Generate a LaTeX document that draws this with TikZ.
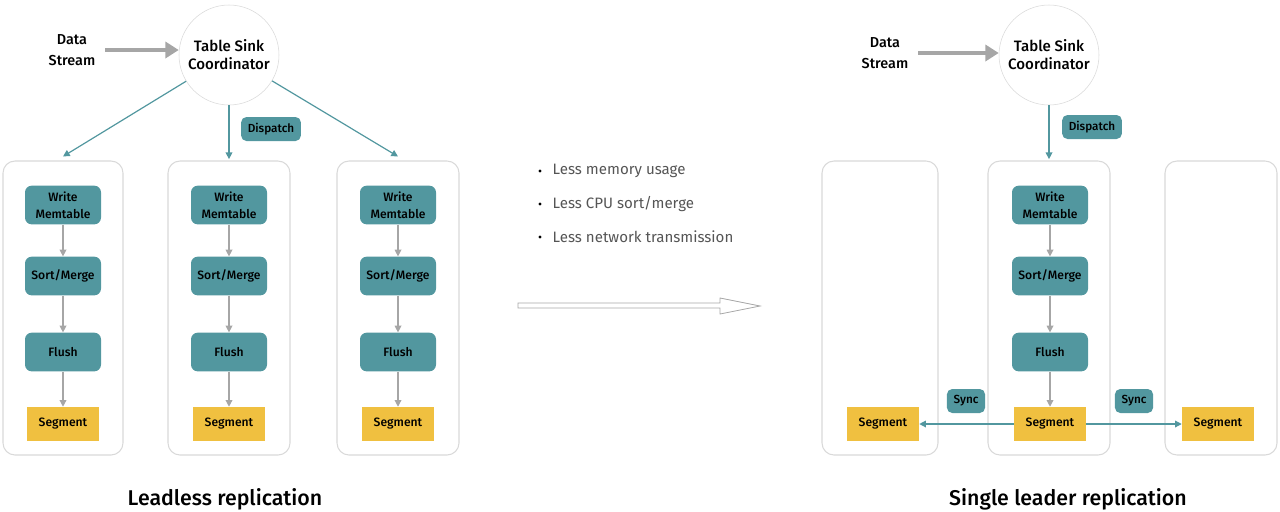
\documentclass[tikz,border=0pt]{standalone}
\usepackage{fontspec}
\setmainfont{Fira Sans}[BoldFont={Fira Sans Medium}]
\usetikzlibrary{arrows.meta,positioning}

\definecolor{boxteal}{HTML}{52979F}
\definecolor{segyellow}{HTML}{F0C040}
\definecolor{framegray}{HTML}{D9D9D9}
\definecolor{flowgray}{HTML}{A6A6A6}
\definecolor{notegray}{HTML}{555555}

\begin{document}
\begin{tikzpicture}[x=0.75pt,y=-0.75pt]

\useasboundingbox (0,0) rectangle (1280,511);

\tikzstyle{coordinator}=[circle,draw=framegray,fill=white,minimum size=75pt,inner sep=0,align=center,font=\bfseries\fontsize{11.3}{13.5}\selectfont]
\tikzstyle{stage}=[rectangle,rounded corners=5pt,fill=boxteal,minimum width=57pt,minimum height=29pt,inner sep=0,align=center,font=\bfseries\fontsize{9.1}{12.5}\selectfont]
\tikzstyle{segment}=[rectangle,fill=segyellow,minimum width=54pt,minimum height=25.5pt,inner sep=0,font=\bfseries\fontsize{9.1}{11}\selectfont]
\tikzstyle{tag}=[rectangle,rounded corners=4pt,fill=boxteal,minimum height=18pt,inner xsep=5pt,font=\bfseries\fontsize{8.8}{10}\selectfont]
\tikzstyle{frame}=[rectangle,rounded corners=9pt,draw=framegray,line width=0.8pt,minimum height=220.5pt,inner sep=0]
\tikzstyle{source}=[align=center,font=\bfseries\fontsize{10.8}{15.5}\selectfont]
\tikzstyle{caption}=[font=\bfseries\fontsize{16}{19}\selectfont]
\tikzstyle{note}=[anchor=west,text=notegray,font=\fontsize{11.3}{13}\selectfont]
\tikzstyle{flow}=[draw=flowgray,line width=0.9pt,-{Triangle[length=5pt,width=5pt]}]
\tikzstyle{feed}=[draw=flowgray,line width=3.6pt,-{Triangle[length=10pt,width=12pt]}]
\tikzstyle{dispatch}=[draw=boxteal,line width=0.9pt,-{Triangle[length=5pt,width=5pt]}]

\newcommand{\pipeline}[2]{
    \node[stage] (write#1) at (#2,205) {Write\\Memtable};
    \node[stage] (sort#1) at (#2,276) {Sort/Merge};
    \node[stage] (flush#1) at (#2,352) {Flush};
    \node[segment] (seg#1) at (#2,424) {Segment};
    \draw[flow] (write#1) -- (sort#1);
    \draw[flow] (sort#1) -- (flush#1);
    \draw[flow] (flush#1) -- (seg#1);
}

% leadless replication
\node[coordinator] (coordL) at (229,55) {Table Sink\\Coordinator};
\node[source] (dataL) at (72,50) {Data\\Stream};
\draw[feed] (dataL.east) ++(4pt,0) coordinate (feedL) -- (coordL.west |- feedL);

\foreach \c/\x/\w in {A/63/90pt,B/229/91.5pt,C/398/91.5pt}
{
    \node[frame,minimum width=\w] (frame\c) at (\x,308) {};
    \pipeline{\c}{\x}
}

\draw[dispatch] (coordL) -- ([yshift=3pt]frameA.north);
\draw[dispatch] (coordL) -- ([yshift=1pt]frameB.north);
\draw[dispatch] (coordL) -- ([yshift=3pt]frameC.north);
\node[tag] (dispatchL) at (271,129) {Dispatch};

\node[caption] (capL) at (225,499) {Leadless replication};

% benefits
\foreach \t [count=\i] in {Less memory usage,Less CPU sort/merge,Less network transmission}
{
    \fill[black] (540,{138+33*\i}) circle (1.2pt);
    \node[note] (note\i) at (548,{138+33*\i}) {\t};
}
\draw[flowgray,line width=0.6pt] (518,303) -- (720,303) -- (720,298) -- (760,306) -- (720,314) -- (720,308) -- (518,308) -- cycle;

% single leader replication
\node[coordinator] (coordR) at (1049,55) {Table Sink\\Coordinator};
\node[source] (dataR) at (885,53) {Data\\Stream};
\draw[feed] (dataR.east) ++(4pt,0) coordinate (feedR) -- (coordR.west |- feedR);

\node[frame,minimum width=87pt] (frameD) at (880,308) {};
\node[frame,minimum width=91.5pt] (frameE) at (1049,308) {};
\node[frame,minimum width=84pt] (frameF) at (1221,308) {};
\pipeline{E}{1050}
\node[segment] (segD) at (883,424) {Segment};
\node[segment] (segF) at (1218,424) {Segment};

\draw[dispatch] (coordR) -- ([yshift=1pt]frameE.north);
\node[tag] (dispatchR) at (1092,127) {Dispatch};
\draw[dispatch] (segE) -- (segD);
\draw[dispatch] (segE) -- (segF);
\node[tag] (syncD) at (966,401) {Sync};
\node[tag] (syncF) at (1134,401) {Sync};

\node[caption] (capR) at (1068,499) {Single leader replication};

\end{tikzpicture}
\end{document}
